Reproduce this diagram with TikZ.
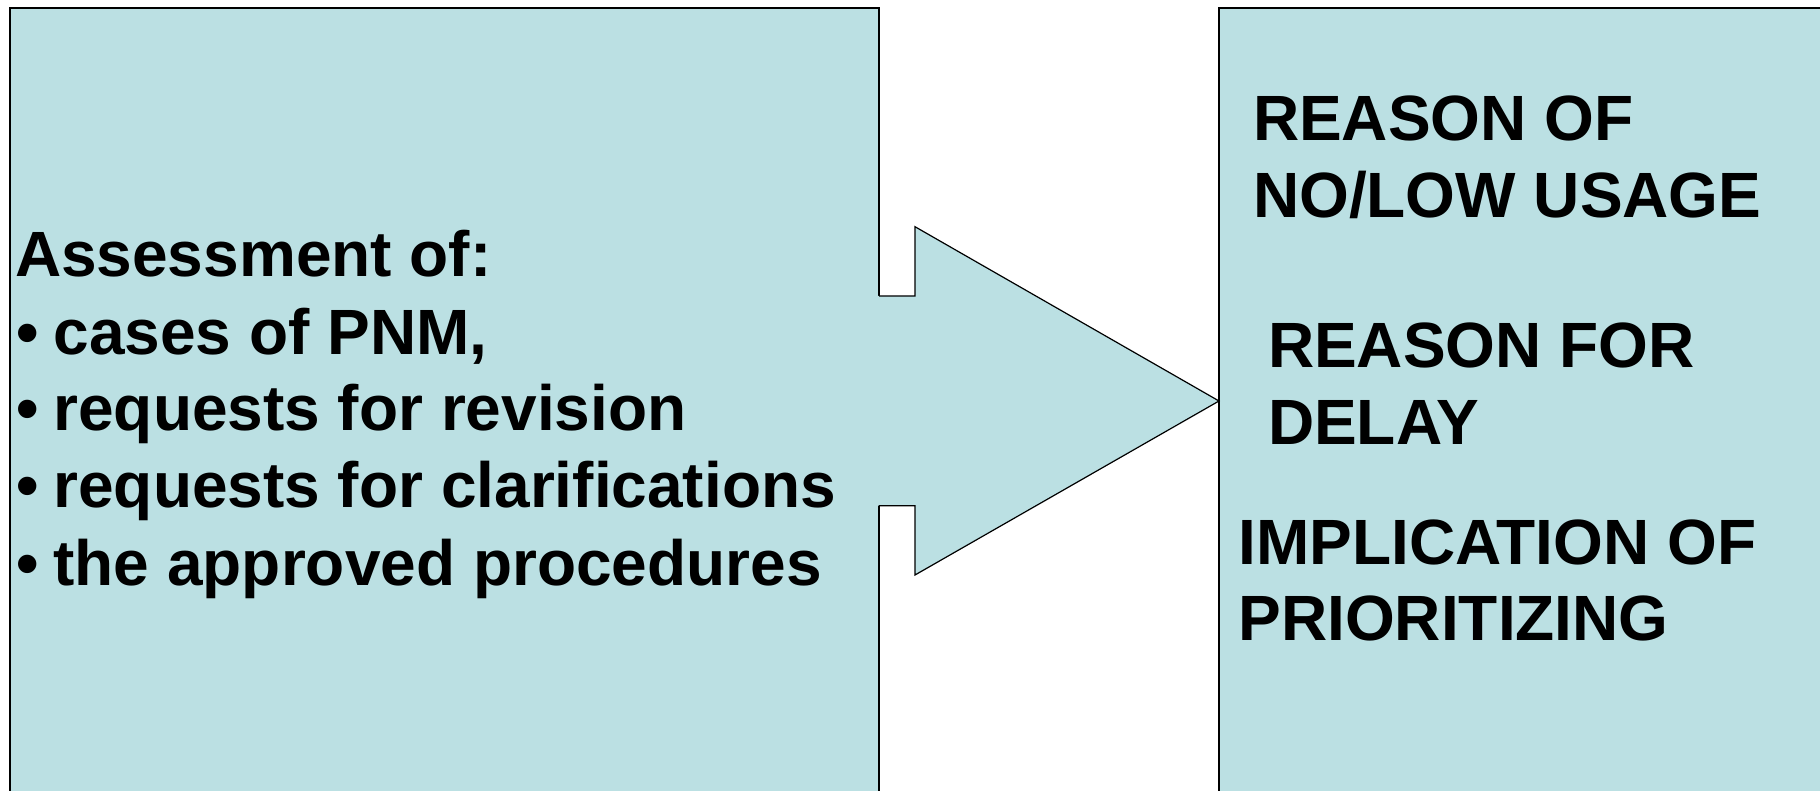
\documentclass[tikz,border=0pt]{standalone}
\usepackage{fontspec}
\setmainfont{Liberation Sans}
\definecolor{boxblue}{RGB}{187,224,227}
\newcommand{\bul}{\makebox[18.5pt][l]{•}}
\begin{document}
\begin{tikzpicture}[x=0.5pt,y=-0.5pt,
  txt/.style={anchor=base west, inner sep=0pt, outer sep=0pt, font=\fontsize{32}{38.5}\selectfont\bfseries},
  panel/.style={fill=boxblue, draw=black, line width=0.6pt},
  arrowline/.style={draw=black, line width=0.6pt, line join=miter},
]
\useasboundingbox (0,0) rectangle (1820,791);
\clip (0,0) rectangle (1820,791);
% panels
\coordinate (lbTL) at (10,8);
\coordinate (lbBR) at (879,820);
\coordinate (rbTL) at (1219,8);
\coordinate (rbBR) at (1840,820);
\path[panel] (lbTL) rectangle (lbBR);
\path[panel] (rbTL) rectangle (rbBR);
% arrow
\coordinate (sTL) at (879,296);
\coordinate (sTR) at (915,296);
\coordinate (hT) at (915,226.7);
\coordinate (tip) at (1219,401);
\coordinate (hB) at (915,575);
\coordinate (sBR) at (915,505.7);
\coordinate (sBL) at (879,505.7);
\fill[boxblue] ([xshift=-1pt]sTL) -- (sTR) -- (hT) -- (tip) -- (hB) -- (sBR) -- ([xshift=-1pt]sBL) -- cycle;
\draw[arrowline] (sTL) -- (sTR) -- (hT) -- (tip) -- (hB) -- (sBR) -- (sBL);
% left text
\node[txt] (l1) at (15,277) {Assessment of:};
\node[txt] (l2) at (16.5,354) {\bul cases of PNM,};
\node[txt] (l3) at (16.5,430.5) {\bul requests for revision};
\node[txt] (l4) at (16.5,507) {\bul requests for clarifications};
\node[txt] (l5) at (16.5,585) {\bul the approved procedures};
% right text
\node[txt] (r1) at (1253,141) {REASON OF};
\node[txt] (r2) at (1253,217.5) {NO/LOW USAGE};
\node[txt] (r3) at (1268,367.5) {REASON FOR};
\node[txt] (r4) at (1268,444) {DELAY};
\node[txt] (r5) at (1238.5,564) {IMPLICATION OF};
\node[txt] (r6) at (1238.5,640.5) {PRIORITIZING};
\end{tikzpicture}
\end{document}
